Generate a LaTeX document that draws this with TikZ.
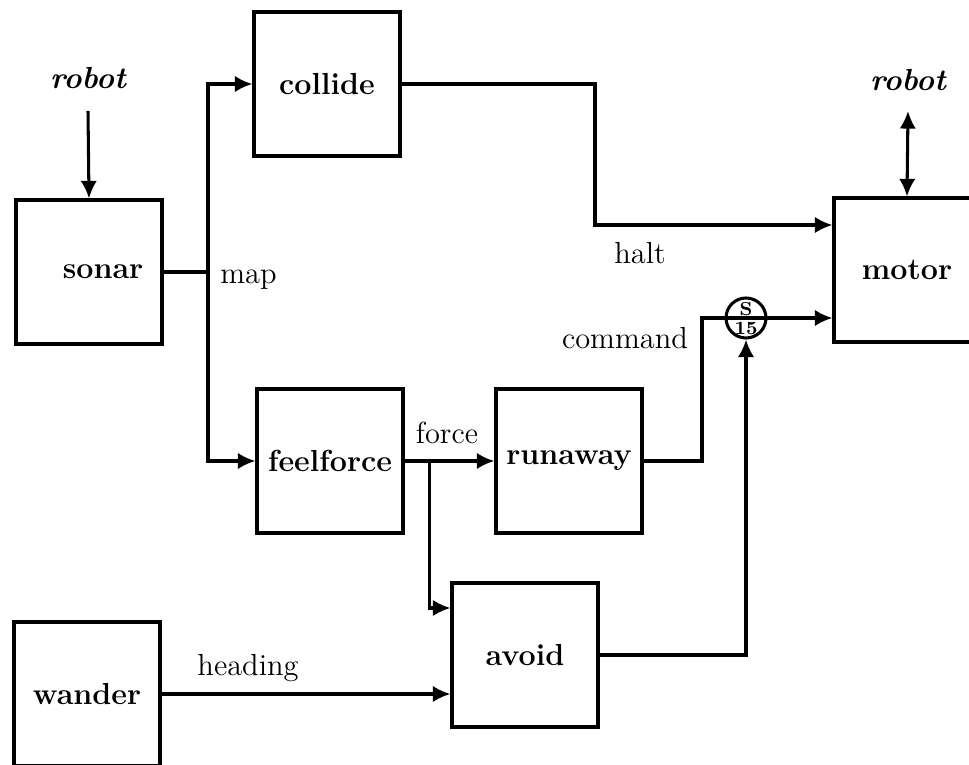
\documentclass[tikz,border=0pt]{standalone}
\usetikzlibrary{arrows.meta,calc}

\tikzset{
    block/.style={draw, line width=1.3pt, minimum width=2.19cm, minimum height=2.16cm, font=\fontsize{13}{16}\selectfont\bfseries},
    wire/.style={line width=1.3pt},
    arrow/.style={wire, -{Latex[length=7.5pt,width=7pt]}},
    lbl/.style={font=\fontsize{13}{16}\selectfont},
    ext/.style={font=\fontsize{13}{16}\selectfont\bfseries\itshape}
}

\begin{document}
\begin{tikzpicture}[x=0.015cm, y=-0.015cm]
    \useasboundingbox (0,0) rectangle (969,765);
    \clip (0,0) rectangle (969,765);

    % The behaviour modules
    \node[block] (sonar) at (89,272) {\hspace{12pt}sonar};
    \node[block] (collide) at (327,84) {collide};
    \node[block] (feelforce) at (330,461) {feelforce};
    \node[block] (runaway) at (569,461) {runaway};
    \node[block] (avoid) at (525,655) {avoid};
    \node[block] (wander) at (87,694) {wander};
    \node[block] (motor) at (907,270) {motor};

    % Suppressor node
    \node[draw, circle, line width=1.3pt, minimum size=0.6cm, inner sep=0pt] (sum) at (746,318) {};
    \node[font=\footnotesize\bfseries, inner sep=0pt] (sumS) at ($(sum.center)+(0,-9)$) {S};
    \node[font=\footnotesize\bfseries, inner sep=0pt] (sumT) at ($(sum.center)+(0,10)$) {15};
    \draw[wire] (sum.west) -- (sum.east);

    % Outside world
    \node[ext] (robotin) at (88,78) {robot};
    \node[ext] (robotout) at (908,80) {robot};
    \draw[arrow] (robotin.south) ++(0,14) -- (sonar.north);
    \draw[wire, {Latex[length=7.5pt,width=7pt]}-{Latex[length=7.5pt,width=7pt]}] ($(robotout.south)+(0,12)$) -- (motor.north);

    % The map bus
    \coordinate (mapjoin) at (208,272);
    \draw[wire] (sonar.east) -- (mapjoin);
    \draw[arrow] (mapjoin) |- (collide.west);
    \draw[arrow] (mapjoin) |- (feelforce.west);
    \node[lbl, anchor=west] (maplbl) at (212,280) {map};

    % halt
    \draw[arrow] (collide.east) -| (595,225) -- ($(motor.west)+(0,-45)$);
    \node[lbl] (haltlbl) at (640,253) {halt};

    % force
    \draw[arrow] (feelforce.east) -- (runaway.west);
    \coordinate (forcejoin) at ($(feelforce.east)+(25,0)$);
    \draw[arrow] (forcejoin) |- ($(avoid.west)+(0,-47)$);
    \node[lbl] (forcelbl) at (447,433) {force};

    % command
    \draw[wire] (runaway.east) -| (702,318) -- (sum.west);
    \node[lbl] (cmdlbl) at (625,338) {command};
    \draw[arrow] (sum.east) -- (sum.east -| motor.west);
    \draw[arrow] (avoid.east) -| (sum.south);

    % heading
    \draw[arrow] (wander.east) -- (wander.east -| avoid.west);
    \node[lbl] (headlbl) at (248,668) {heading};
\end{tikzpicture}
\end{document}
